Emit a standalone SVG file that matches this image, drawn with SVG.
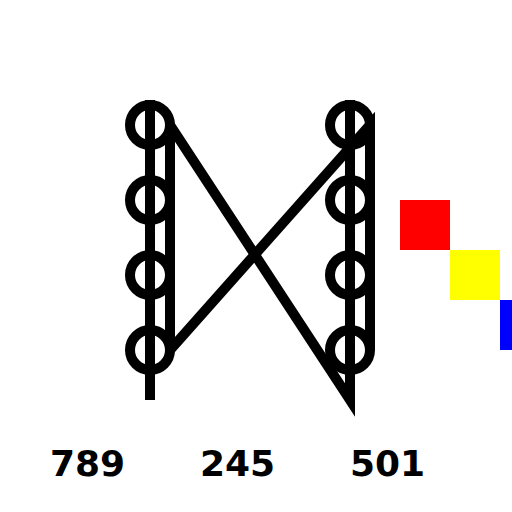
<svg xmlns="http://www.w3.org/2000/svg" width="512" height="512" viewBox="0 0 512 512">
<style>
.ln{fill:none;stroke:#000;stroke-width:10;stroke-linejoin:miter}
.nd{fill:none;stroke:#000;stroke-width:10}
.lb{font-family:"DejaVu Sans",sans-serif;font-weight:bold;font-size:36px;fill:#000}
</style>
<rect width="512" height="512" fill="#fff"/>
<g id="connectors">
<line class="ln" x1="150" y1="100" x2="150" y2="400"/>
<polyline class="ln" points="370,350 370,125 170,350 170,125 350,400 350,100"/>
</g>
<g id="left-column">
<circle class="nd" cx="150" cy="125" r="20"/>
<circle class="nd" cx="150" cy="200" r="20"/>
<circle class="nd" cx="150" cy="275" r="20"/>
<circle class="nd" cx="150" cy="350" r="20"/>
</g>
<g id="right-column">
<circle class="nd" cx="350" cy="125" r="20"/>
<circle class="nd" cx="350" cy="200" r="20"/>
<circle class="nd" cx="350" cy="275" r="20"/>
<circle class="nd" cx="350" cy="350" r="20"/>
</g>
<g id="squares">
<rect x="400" y="200" width="50" height="50" fill="#f00"/>
<rect x="450" y="250" width="50" height="50" fill="#ff0"/>
<rect x="500" y="300" width="50" height="50" fill="#00f"/>
</g>
<g id="labels">
<text class="lb" x="50" y="476">789</text>
<text class="lb" x="200" y="476">245</text>
<text class="lb" x="350" y="476">501</text>
</g>
</svg>
